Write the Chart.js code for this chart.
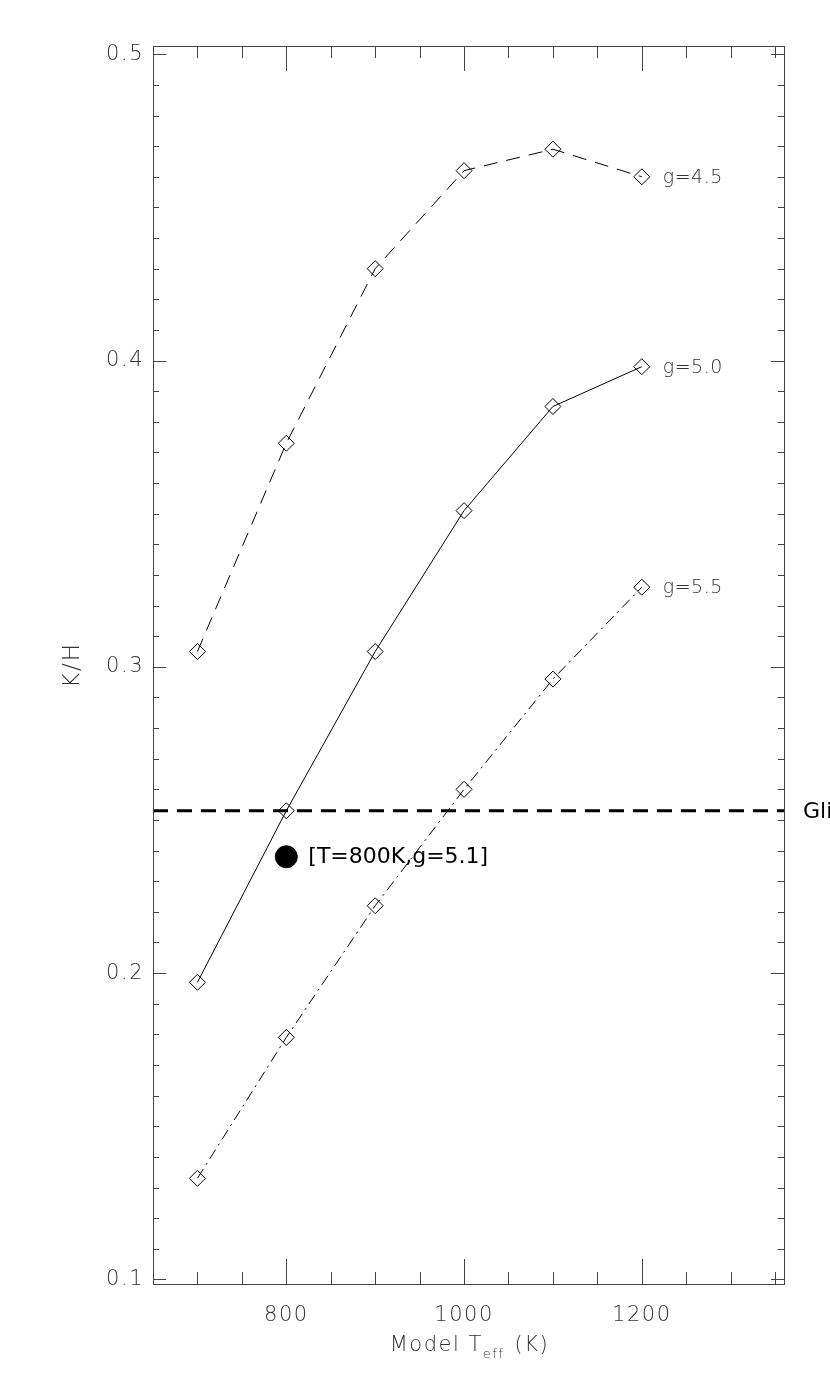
<!DOCTYPE html>
<html>
<head>
<meta charset="utf-8">
<script src="https://cdn.jsdelivr.net/npm/chart.js@4/dist/chart.umd.min.js"></script>
<style>
  html, body { margin: 0; padding: 0; background: #fff; }
  canvas { display: block; }
</style>
</head>
<body>
<canvas id="khChart" width="830" height="1382" style="width:830px;height:1382px"></canvas>
<script>
// temperature grid (K)
const teff = [700, 800, 900, 1000, 1100, 1200];

// K/H for each gravity
const kh45 = [0.305, 0.373, 0.430, 0.462, 0.469, 0.460];
const kh50 = [0.197, 0.253, 0.305, 0.351, 0.385, 0.398];
const kh55 = [0.133, 0.179, 0.222, 0.260, 0.296, 0.326];
const seriesNames = ['g=4.5', 'g=5.0', 'g=5.5'];

// observed value (horizontal line) and best fit point
const gliX = [650, 1360];
const gliKH = 0.253;
const fitT = 800;
const fitKH = 0.238;
const fitLabel = '[T=800K,g=5.1]';

// axes
const xMin = 650, xMax = 1360;
const yMin = 0.0985, yMax = 0.5027;
const xLabels = [800, 1000, 1200];
const yLabels = [0.1, 0.2, 0.3, 0.4, 0.5];

const thinFont = '"DejaVu Sans", sans-serif';
const axisGray = '#333';

function pts(ys) {
    return teff.map((t, i) => ({ x: t, y: ys[i] }));
}

function diamondSet(label, ys, dash) {
    return {
        label: label,
        data: pts(ys),
        showLine: true,
        borderColor: '#000',
        borderWidth: 1,
        borderDash: dash,
        backgroundColor: 'rgba(0,0,0,0)',
        pointStyle: 'rectRot',
        pointRadius: 8,
        pointBorderWidth: 1,
        pointBorderColor: '#000',
        pointBackgroundColor: 'rgba(0,0,0,0)'
    };
}

// wider letter spacing for the tick numbers (thin plotter-style text)
const spacingPlugin = {
    id: 'spacing',
    beforeDraw(chart) { chart.ctx.letterSpacing = '1.5px'; },
    beforeDatasetsDraw(chart) { chart.ctx.letterSpacing = '0px'; }
};

// frame with inward ticks on all four sides, titles and text labels
const framePlugin = {
    id: 'frame',
    afterDraw(chart) {
        const ctx = chart.ctx;
        const a = chart.chartArea;
        const xs = chart.scales.x, ys = chart.scales.y;
        ctx.save();
        ctx.strokeStyle = '#444';
        ctx.lineWidth = 1;
        ctx.strokeRect(a.left + 0.5, a.top + 0.5, a.right - a.left, a.bottom - a.top);

        ctx.beginPath();
        for (let v = 700; v <= 1350; v += 50) {
            const px = Math.round(xs.getPixelForValue(v)) + 0.5;
            const len = (v % 200 === 0) ? 25 : 12;
            ctx.moveTo(px, a.bottom); ctx.lineTo(px, a.bottom - len);
            ctx.moveTo(px, a.top); ctx.lineTo(px, a.top + len);
        }
        for (let i = 10; i <= 50; i++) {
            const py = Math.round(ys.getPixelForValue(i / 100)) + 0.5;
            const len = (i % 10 === 0) ? 13 : 6;
            ctx.moveTo(a.left, py); ctx.lineTo(a.left + len, py);
            ctx.moveTo(a.right, py); ctx.lineTo(a.right - len, py);
        }
        ctx.stroke();

        // axis titles
        ctx.fillStyle = axisGray;
        ctx.textBaseline = 'middle';
        ctx.letterSpacing = '2px';
        ctx.save();
        ctx.translate(73, (a.top + a.bottom) / 2);
        ctx.rotate(-Math.PI / 2);
        ctx.textAlign = 'center';
        ctx.font = '300 23px ' + thinFont;
        ctx.fillText('K/H', 0, 0);
        ctx.restore();

        ctx.letterSpacing = '1.5px';
        const p1 = 'Model T', sub = 'eff', p2 = ' (K)';
        ctx.font = '300 21px ' + thinFont;
        const w1 = ctx.measureText(p1).width, w3 = ctx.measureText(p2).width;
        ctx.font = '300 13px ' + thinFont;
        const w2 = ctx.measureText(sub).width;
        let tx = (a.left + a.right) / 2 - (w1 + w2 + w3) / 2;
        const ty = 1346;
        ctx.textAlign = 'left';
        ctx.font = '300 21px ' + thinFont;
        ctx.fillText(p1, tx, ty);
        ctx.font = '300 13px ' + thinFont;
        ctx.fillText(sub, tx + w1, ty + 9);
        ctx.font = '300 21px ' + thinFont;
        ctx.fillText(p2, tx + w1 + w2 + 2, ty);

        // series labels next to last point
        ctx.letterSpacing = '0.5px';
        const lastT = teff[teff.length - 1];
        [kh45, kh50, kh55].forEach((arr, i) => {
            const px = xs.getPixelForValue(lastT);
            const py = ys.getPixelForValue(arr[arr.length - 1]);
            ctx.font = '300 19px ' + thinFont;
            ctx.fillStyle = axisGray;
            ctx.fillText(seriesNames[i], px + 21, py + 1);
        });

        // fit label and observation name
        ctx.letterSpacing = '0px';
        ctx.fillStyle = '#000';
        ctx.font = '22px ' + thinFont;
        ctx.fillText(fitLabel, xs.getPixelForValue(fitT) + 22, ys.getPixelForValue(fitKH) + 1);
        ctx.fillText('Gli', 803, ys.getPixelForValue(gliKH) + 1);
        ctx.restore();
    }
};

const ctx = document.getElementById('khChart').getContext('2d');
const khChart = new Chart(ctx, {
    type: 'scatter',
    data: {
        datasets: [
            diamondSet(seriesNames[0], kh45, [14, 9]),
            diamondSet(seriesNames[1], kh50, []),
            diamondSet(seriesNames[2], kh55, [11, 5, 2, 5]),
            {
                label: 'Gli',
                data: gliX.map(x => ({ x: x, y: gliKH })),
                showLine: true,
                borderColor: '#000',
                borderWidth: 3,
                borderDash: [15, 9],
                pointRadius: 0
            },
            {
                label: 'fit',
                data: [{ x: fitT, y: fitKH }],
                pointStyle: 'circle',
                pointRadius: 11,
                pointBackgroundColor: '#000',
                pointBorderColor: '#000'
            }
        ]
    },
    options: {
        responsive: false,
        animation: false,
        devicePixelRatio: 1,
        layout: { padding: { top: 46, right: 46, left: 0, bottom: 0 } },
        plugins: {
            legend: { display: false },
            tooltip: { enabled: false }
        },
        scales: {
            x: {
                type: 'linear',
                min: xMin,
                max: xMax,
                afterFit: s => { s.height = 98; },
                afterBuildTicks: s => { s.ticks = xLabels.map(v => ({ value: v })); },
                grid: { display: false, drawTicks: false },
                border: { display: false },
                ticks: {
                    padding: 19,
                    color: axisGray,
                    font: { family: 'DejaVu Sans', size: 21, weight: 300 },
                    callback: v => String(v)
                }
            },
            y: {
                type: 'linear',
                min: yMin,
                max: yMax,
                afterFit: s => { s.width = 153; },
                afterBuildTicks: s => { s.ticks = yLabels.map(v => ({ value: v })); },
                grid: { display: false, drawTicks: false },
                border: { display: false },
                ticks: {
                    padding: 9,
                    color: axisGray,
                    font: { family: 'DejaVu Sans', size: 21, weight: 300 },
                    callback: v => v.toFixed(1)
                }
            }
        }
    },
    plugins: [spacingPlugin, framePlugin]
});
</script>
</body>
</html>
